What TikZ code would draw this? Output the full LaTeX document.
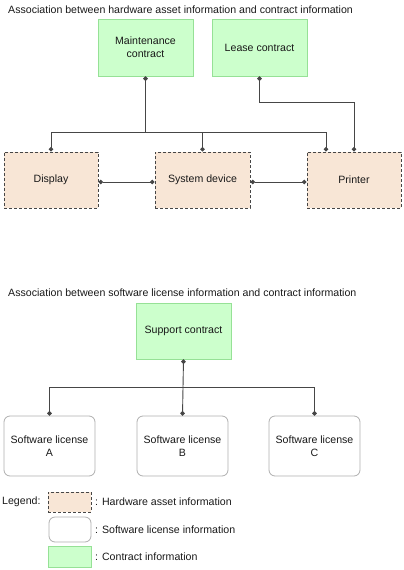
\documentclass[tikz,border=0pt]{standalone}
\usepackage{fontspec}
\setmainfont{Liberation Sans}
\usetikzlibrary{arrows.meta}
\definecolor{hwfill}{RGB}{248,230,214}
\definecolor{ctfill}{RGB}{204,255,204}
\definecolor{ctline}{RGB}{150,225,150}
\definecolor{swline}{RGB}{175,175,175}
\definecolor{linegray}{RGB}{70,70,70}
\tikzset{
  every node/.style={font=\fontsize{10.6}{12}\selectfont, text=black!90, inner sep=0pt},
  hwbox/.style={draw=linegray, fill=hwfill, dash pattern=on 3pt off 2pt, line width=0.9pt, minimum width=94pt, minimum height=56pt, align=center},
  swbox/.style={draw=swline, fill=white, rounded corners=6pt, line width=0.8pt, minimum width=91pt, minimum height=60pt, align=center},
  ctbox/.style={draw=ctline, fill=ctfill, line width=0.8pt, minimum width=95pt, minimum height=57pt, align=center},
  conn/.style={draw=linegray, line width=0.9pt},
  dotted ends/.style={{Circle[length=4.5pt]}-{Circle[length=4.5pt]}},
  dot start/.style={{Circle[length=4.5pt]}-}
}
\begin{document}
\begin{tikzpicture}[x=1pt, y=-1pt]
    \useasboundingbox (0,0) rectangle (404,570);
    % hardware asset part
    \node[anchor=west] (title1) at (8,10) {Association between hardware asset information and contract information};
    \node[ctbox] (maint) at (145.5,47.5) {Maintenance\\[1pt]contract};
    \node[ctbox] (lease) at (259.5,47.5) {Lease contract};
    \node[hwbox] (disp) at (51,180) {Display};
    \node[hwbox, minimum width=95pt] (sysdev) at (202.5,180) {System device};
    \node[hwbox] (prn) at (354,180) {Printer};
    \coordinate (prnL) at ([xshift=-28pt]prn.north);
    \draw[conn, dot start] (maint.south) -- ++(0,56) coordinate (hub);
    \draw[conn, dotted ends] (disp.north) |- (hub) -| (prnL);
    \draw[conn, dot start] (sysdev.north) -- (sysdev.north |- hub);
    \draw[conn, dotted ends] (lease.south) -- ++(0,26) -| (prn.north);
    \draw[conn, dotted ends] ([yshift=-2pt]disp.east) -- ([yshift=-2pt]sysdev.west);
    \draw[conn, dotted ends] ([yshift=-2pt]sysdev.east) -- ([yshift=-2pt]prn.west);
    % software license part
    \node[anchor=west] (title2) at (8,293) {Association between software license information and contract information};
    \node[ctbox, minimum height=56pt] (supp) at (183.5,331) {Support contract};
    \node[swbox] (swA) at (49.5,446) {Software license\\[1pt]A};
    \node[swbox] (swB) at (182.5,446) {Software license\\[1pt]B};
    \node[swbox] (swC) at (314.5,446) {Software license\\[1pt]C};
    \draw[conn, dotted ends] (supp.south) -- (swB.north);
    \draw[conn, dotted ends] (swA.north) |- ([yshift=28pt]swB.north) -| (swC.north);
    % legend
    \node[anchor=west] (leg) at (2,502) {Legend:};
    \node[hwbox, minimum width=43pt, minimum height=20pt] (leghw) at (69.5,502) {};
    \node[swbox, minimum width=42pt, minimum height=25pt] (legsw) at (70,529.5) {};
    \node[ctbox, minimum width=43pt, minimum height=21pt] (legct) at (69.5,556.5) {};
    \node[anchor=west] (leghwt) at (95,502) {: Hardware asset information};
    \node[anchor=west] (legswt) at (95,529.5) {: Software license information};
    \node[anchor=west] (legctt) at (95,556.5) {: Contract information};
\end{tikzpicture}
\end{document}
